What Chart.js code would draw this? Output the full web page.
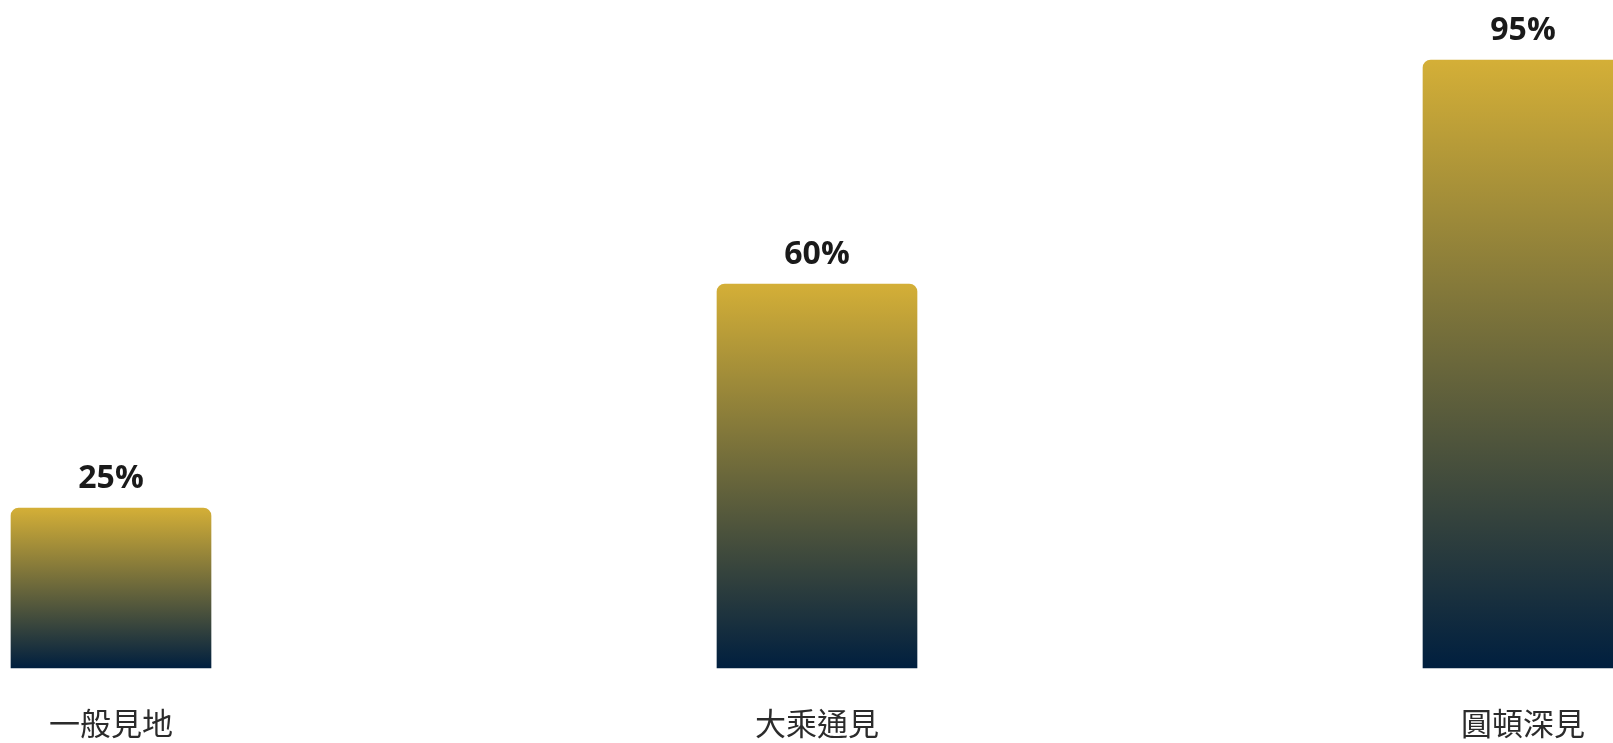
<!DOCTYPE html>
<html>
<head>
<meta charset="utf-8">
<script src="https://cdn.jsdelivr.net/npm/chart.js@4.4.0/dist/chart.umd.min.js"></script>
<style>
  html, body { margin: 0; padding: 0; background: #ffffff; overflow: hidden; }
  #wrap { width: 1613px; height: 743px; position: relative; }
</style>
</head>
<body>
<div id="wrap"><canvas id="insight-chart"></canvas></div>
<script>
const categories = ['一般見地', '大乘通見', '圓頓深見'];
const depthValues = [25, 60, 95];
const yTicks = [0, 100];

// gold on top fading into navy at the base, per bar
function barGradient(context) {
    const chart = context.chart;
    if (!chart.chartArea) return '#D4AF37';
    const y = chart.scales.y;
    const top = y.getPixelForValue(context.raw);
    const bottom = y.getPixelForValue(0);
    const g = chart.ctx.createLinearGradient(0, top, 0, bottom);
    g.addColorStop(0, '#D4AF37');
    g.addColorStop(1, '#001F3F');
    return g;
}

const valueLabels = {
    id: 'valueLabels',
    afterDatasetsDraw(chart) {
        const ctx = chart.ctx;
        const meta = chart.getDatasetMeta(0);
        ctx.save();
        ctx.font = 'bold 32px "Open Sans", sans-serif';
        ctx.fillStyle = '#1a1a1a';
        ctx.textAlign = 'center';
        ctx.textBaseline = 'alphabetic';
        meta.data.forEach((bar, i) => {
            ctx.fillText(depthValues[i] + '%', bar.x, bar.y - 20);
        });
        ctx.restore();
    }
};

const ctx = document.getElementById('insight-chart').getContext('2d');
const insightChart = new Chart(ctx, {
    type: 'bar',
    data: {
        labels: categories,
        datasets: [{
            data: depthValues,
            backgroundColor: barGradient,
            borderRadius: { topLeft: 8, topRight: 8 },
            borderSkipped: 'bottom',
            barThickness: 200,
            clip: false
        }]
    },
    options: {
        responsive: true,
        maintainAspectRatio: false,
        animation: false,
        layout: {
            padding: { left: 111, right: 90, top: 28, bottom: 0 }
        },
        scales: {
            x: {
                offset: false,
                grid: { display: false, drawTicks: false },
                border: { display: false },
                afterFit(scale) {
                    // let the layout padding alone decide the side margins
                    scale.height = 75;
                    scale.paddingLeft = 0;
                    scale.paddingRight = 0;
                },
                ticks: {
                    padding: 37,
                    color: '#2b2b2b',
                    font: { family: '"Noto Sans CJK TC", sans-serif', size: 31 }
                }
            },
            y: {
                display: false,
                min: yTicks[0],
                max: yTicks[1]
            }
        },
        plugins: {
            legend: { display: false },
            tooltip: { enabled: false }
        }
    },
    plugins: [valueLabels]
});
</script>
</body>
</html>
